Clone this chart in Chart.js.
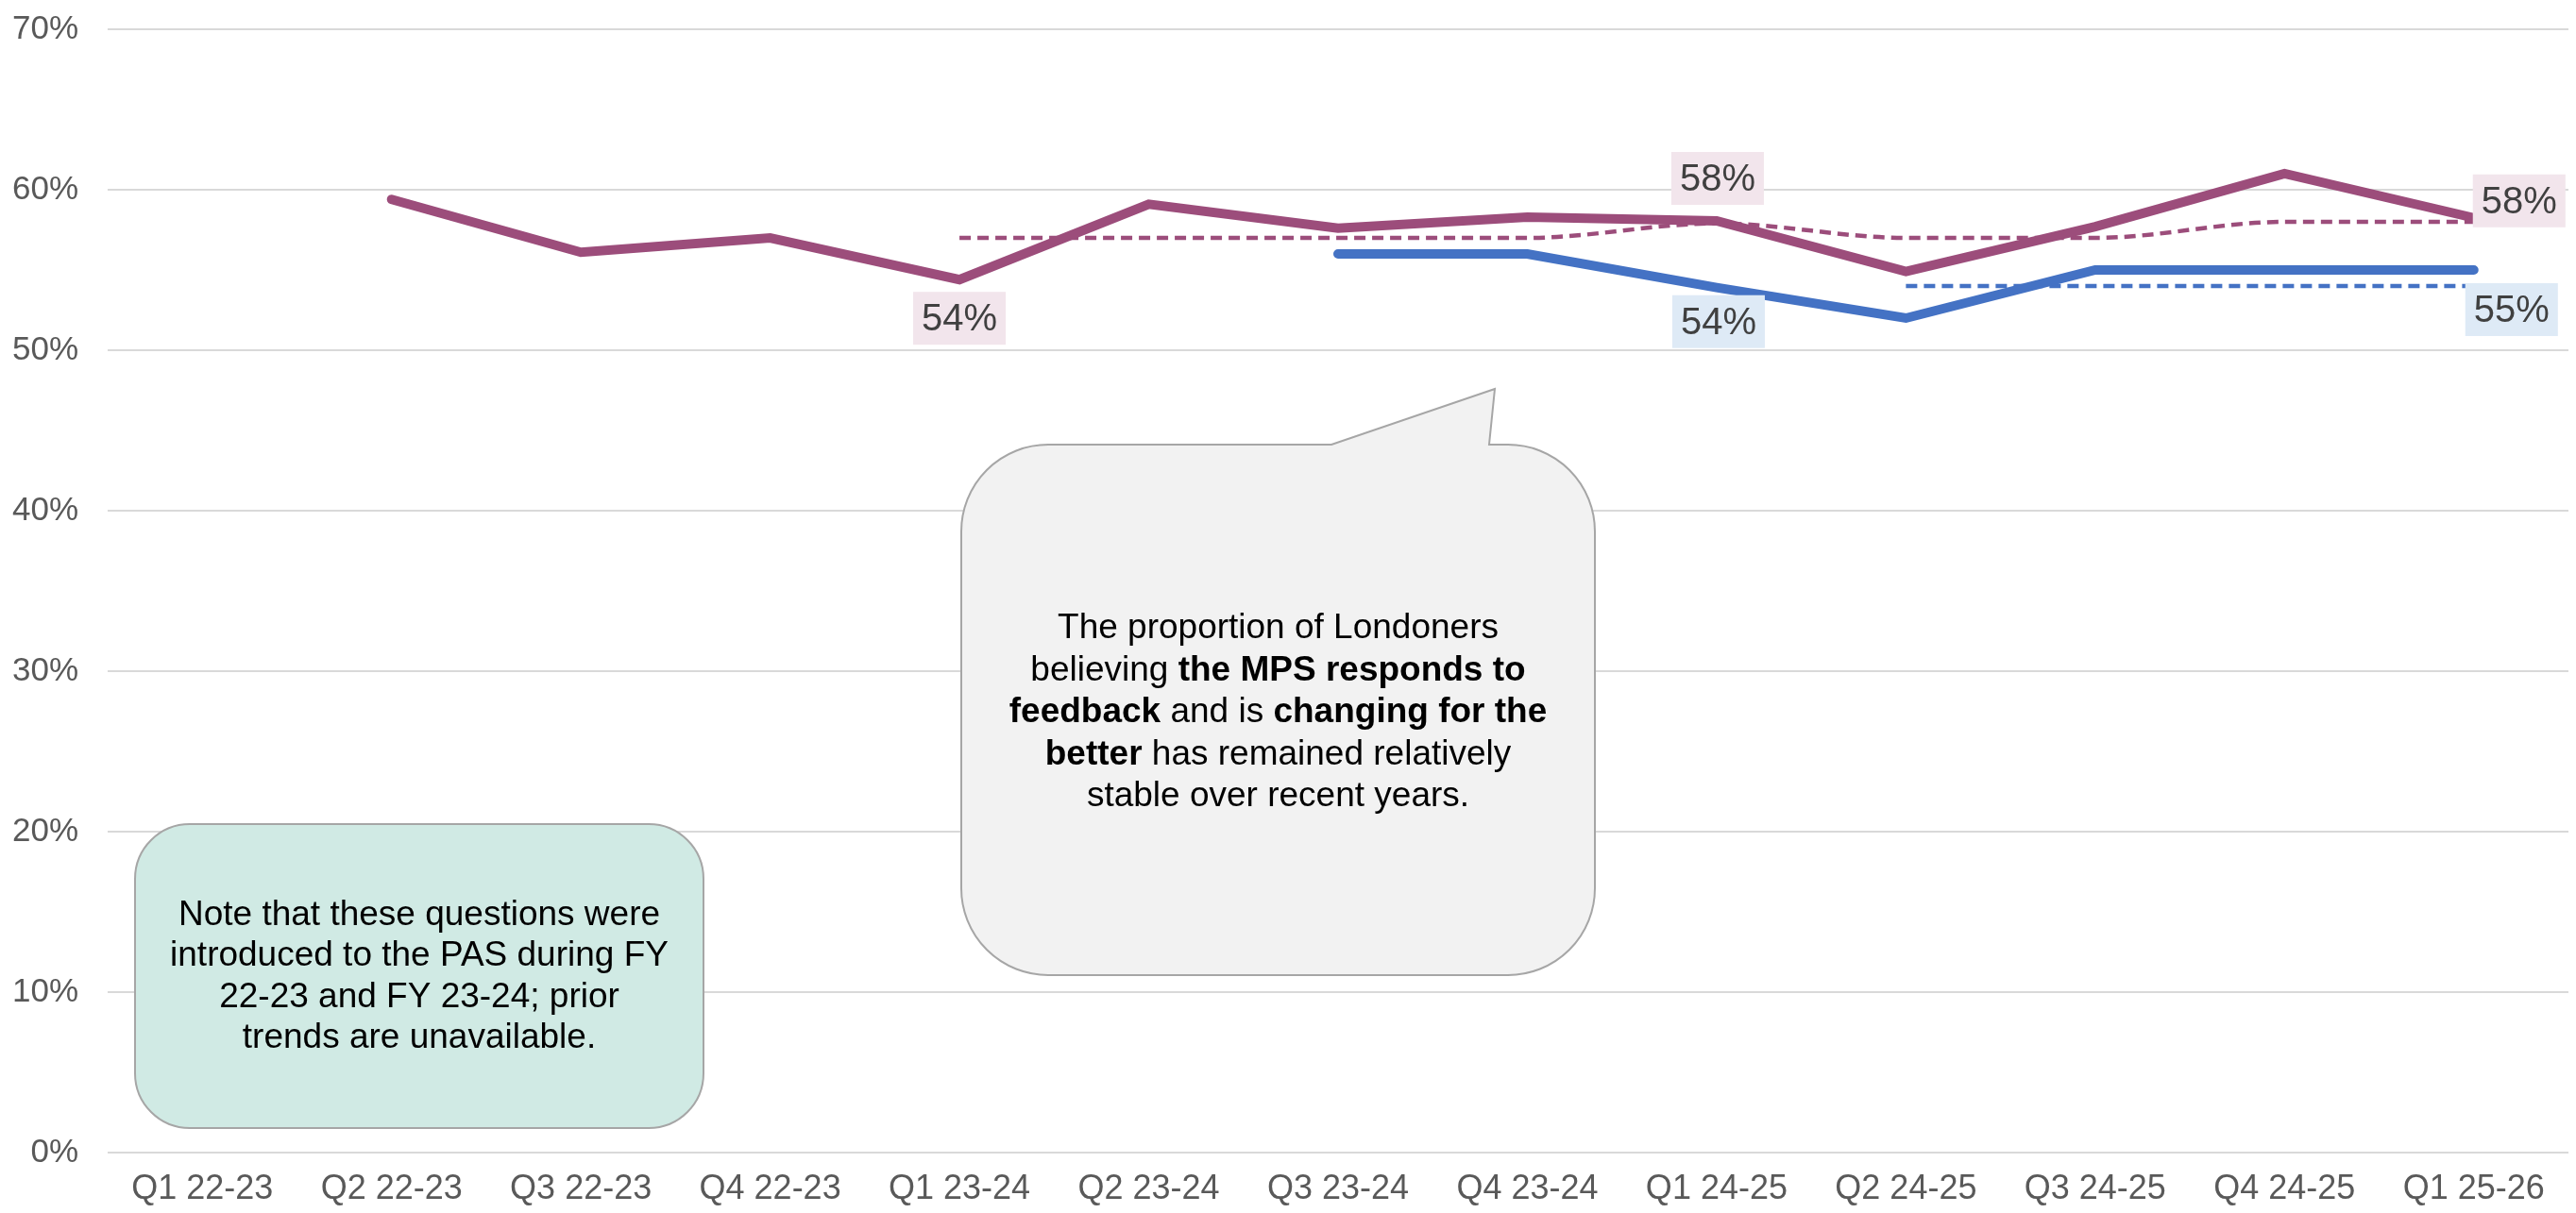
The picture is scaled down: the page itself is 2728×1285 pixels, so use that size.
<!DOCTYPE html>
<html>
<head>
<meta charset="utf-8">
<script src="https://cdn.jsdelivr.net/npm/chart.js@4.4.1/dist/chart.umd.min.js"></script>
<style>
  html, body { margin: 0; padding: 0; background: #fff; }
  #wrap { width: 2728px; height: 1285px; position: relative; }
</style>
</head>
<body>
<div id="wrap"><canvas id="chart"></canvas></div>
<script>
// quarters on the x axis
const quarters = ['Q1 22-23','Q2 22-23','Q3 22-23','Q4 22-23','Q1 23-24','Q2 23-24','Q3 23-24',
                  'Q4 23-24','Q1 24-25','Q2 24-25','Q3 24-25','Q4 24-25','Q1 25-26'];

// quarterly values (%)
const respondsToFeedback = [null, 59.4, 56.1, 57.0, 54.4, 59.1, 57.6, 58.3, 58.06, 54.9, 57.7, 61.0, 58.25];
const changingForBetter  = [null, null, null, null, null, null, 56.0, 56.0, 53.9, 52.0, 55.0, 55.0, 55.0];

// longer-term averages (dashed)
const respondsAvg = [null, null, null, null, 57, 57, 57, 57, 57.9, 57, 57, 58, 58];
const changingAvg = [null, null, null, null, null, null, null, null, null, 54, 54, 54, 54];

const yTicks = [0, 10, 20, 30, 40, 50, 60, 70];

const noteLines = [
  [['Note that these questions were', false]],
  [['introduced to the PAS during FY', false]],
  [['22-23 and FY 23-24; prior', false]],
  [['trends are unavailable.', false]]
];
const calloutLines = [
  [['The proportion of Londoners', false]],
  [['believing ', false], ['the MPS responds to', true]],
  [['feedback', true], [' and is ', false], ['changing for the', true]],
  [['better', true], [' has remained relatively', false]],
  [['stable over recent years.', false]]
];

const PURPLE = '#9c4d7b';
const BLUE = '#4472c4';
const FONT = '"Liberation Sans", Arial, sans-serif';

// which points get a value box, and where the box sits
const pointLabels = [
  { ds: 0, i: 4,  dx: 0,  dy: 41,  bg: '#f2e5ec' },
  { ds: 0, i: 8,  dx: 1,  dy: -45, bg: '#f2e5ec' },
  { ds: 0, i: 12, dx: 48, dy: -18, bg: '#f2e5ec' },
  { ds: 1, i: 8,  dx: 2,  dy: 36,  bg: '#deeaf6' },
  { ds: 1, i: 12, dx: 40, dy: 42,  bg: '#deeaf6' }
];

const valueLabelPlugin = {
  id: 'valueLabels',
  afterDatasetsDraw(chart) {
    const ctx = chart.ctx;
    ctx.save();
    ctx.font = '40px ' + FONT;
    ctx.textAlign = 'center';
    ctx.textBaseline = 'middle';
    pointLabels.forEach(l => {
      const pt = chart.getDatasetMeta(l.ds).data[l.i];
      const v = chart.data.datasets[l.ds].data[l.i];
      const txt = Math.round(v) + '%';
      const w = ctx.measureText(txt).width + 18;
      const h = 56;
      const cx = pt.x + l.dx, cy = pt.y + l.dy;
      ctx.fillStyle = l.bg;
      ctx.fillRect(cx - w / 2, cy - h / 2, w, h);
      ctx.fillStyle = '#404040';
      ctx.fillText(txt, cx, cy + 2);
    });
    ctx.restore();
  }
};

function drawLines(ctx, lines, cx, cy, size, lh) {
  const top = cy - (lines.length - 1) * lh / 2;
  ctx.textBaseline = 'middle';
  ctx.textAlign = 'left';
  ctx.fillStyle = '#000';
  lines.forEach((segs, k) => {
    let total = 0;
    segs.forEach(([t, b]) => { ctx.font = (b ? 'bold ' : '') + size + 'px ' + FONT; total += ctx.measureText(t).width; });
    let x = cx - total / 2;
    segs.forEach(([t, b]) => {
      ctx.font = (b ? 'bold ' : '') + size + 'px ' + FONT;
      ctx.fillText(t, x, top + k * lh);
      x += ctx.measureText(t).width;
    });
  });
}

const calloutPlugin = {
  id: 'callouts',
  afterDraw(chart) {
    const ctx = chart.ctx;
    ctx.save();
    ctx.lineWidth = 2;
    ctx.strokeStyle = '#a6a6a6';

    // note box
    ctx.beginPath();
    ctx.roundRect(143, 873, 602, 322, 58);
    ctx.fillStyle = '#d0eae4';
    ctx.fill();
    ctx.stroke();
    drawLines(ctx, noteLines, 444, 1035, 37, 43.5);

    // speech bubble
    const x = 1018, y = 471, w = 671, h = 562, r = 92;
    ctx.beginPath();
    ctx.moveTo(x + r, y);
    ctx.lineTo(1410, y);
    ctx.lineTo(1583, 412);
    ctx.lineTo(1577, y);
    ctx.lineTo(x + w - r, y);
    ctx.arcTo(x + w, y, x + w, y + r, r);
    ctx.lineTo(x + w, y + h - r);
    ctx.arcTo(x + w, y + h, x + w - r, y + h, r);
    ctx.lineTo(x + r, y + h);
    ctx.arcTo(x, y + h, x, y + h - r, r);
    ctx.lineTo(x, y + r);
    ctx.arcTo(x, y, x + r, y, r);
    ctx.closePath();
    ctx.fillStyle = '#f2f2f2';
    ctx.fill();
    ctx.stroke();
    drawLines(ctx, calloutLines, x + w / 2, 755, 37, 44.5);
    ctx.restore();
  }
};

new Chart(document.getElementById('chart'), {
  type: 'line',
  data: {
    labels: quarters,
    datasets: [
      { data: respondsToFeedback, borderColor: PURPLE, borderWidth: 10, borderCapStyle: 'round', order: 0 },
      { data: changingForBetter, borderColor: BLUE, borderWidth: 10, borderCapStyle: 'round', order: 1 },
      { data: respondsAvg, borderColor: PURPLE, borderWidth: 4.5, borderDash: [12, 7],
        cubicInterpolationMode: 'monotone', order: 2 },
      { data: changingAvg, borderColor: BLUE, borderWidth: 4.5, borderDash: [12, 7],
        cubicInterpolationMode: 'monotone', order: 3 }
    ]
  },
  options: {
    responsive: true,
    maintainAspectRatio: false,
    animation: false,
    events: [],
    elements: { point: { radius: 0, hoverRadius: 0 }, line: { fill: false, tension: 0 } },
    layout: { padding: { top: 31, right: 8, left: 0, bottom: 0 } },
    plugins: { legend: { display: false }, tooltip: { enabled: false } },
    scales: {
      x: {
        type: 'category',
        offset: true,
        grid: { display: false, drawTicks: false },
        border: { display: false },
        ticks: { color: '#595959', font: { family: FONT, size: 36 }, padding: 17, maxRotation: 0, autoSkip: false },
        afterFit: s => { s.height = 64; }
      },
      y: {
        min: 0, max: 70,
        grid: { color: '#d9d9d9', lineWidth: 2, drawTicks: false },
        border: { display: false },
        afterBuildTicks: s => { s.ticks = yTicks.map(v => ({ value: v })); },
        ticks: { color: '#595959', font: { family: FONT, size: 35 }, padding: 31, callback: v => v + '%' },
        afterFit: s => { s.width = 114; s.paddingTop = 0; s.paddingBottom = 0; }
      }
    }
  },
  plugins: [valueLabelPlugin, calloutPlugin]
});
</script>
</body>
</html>
